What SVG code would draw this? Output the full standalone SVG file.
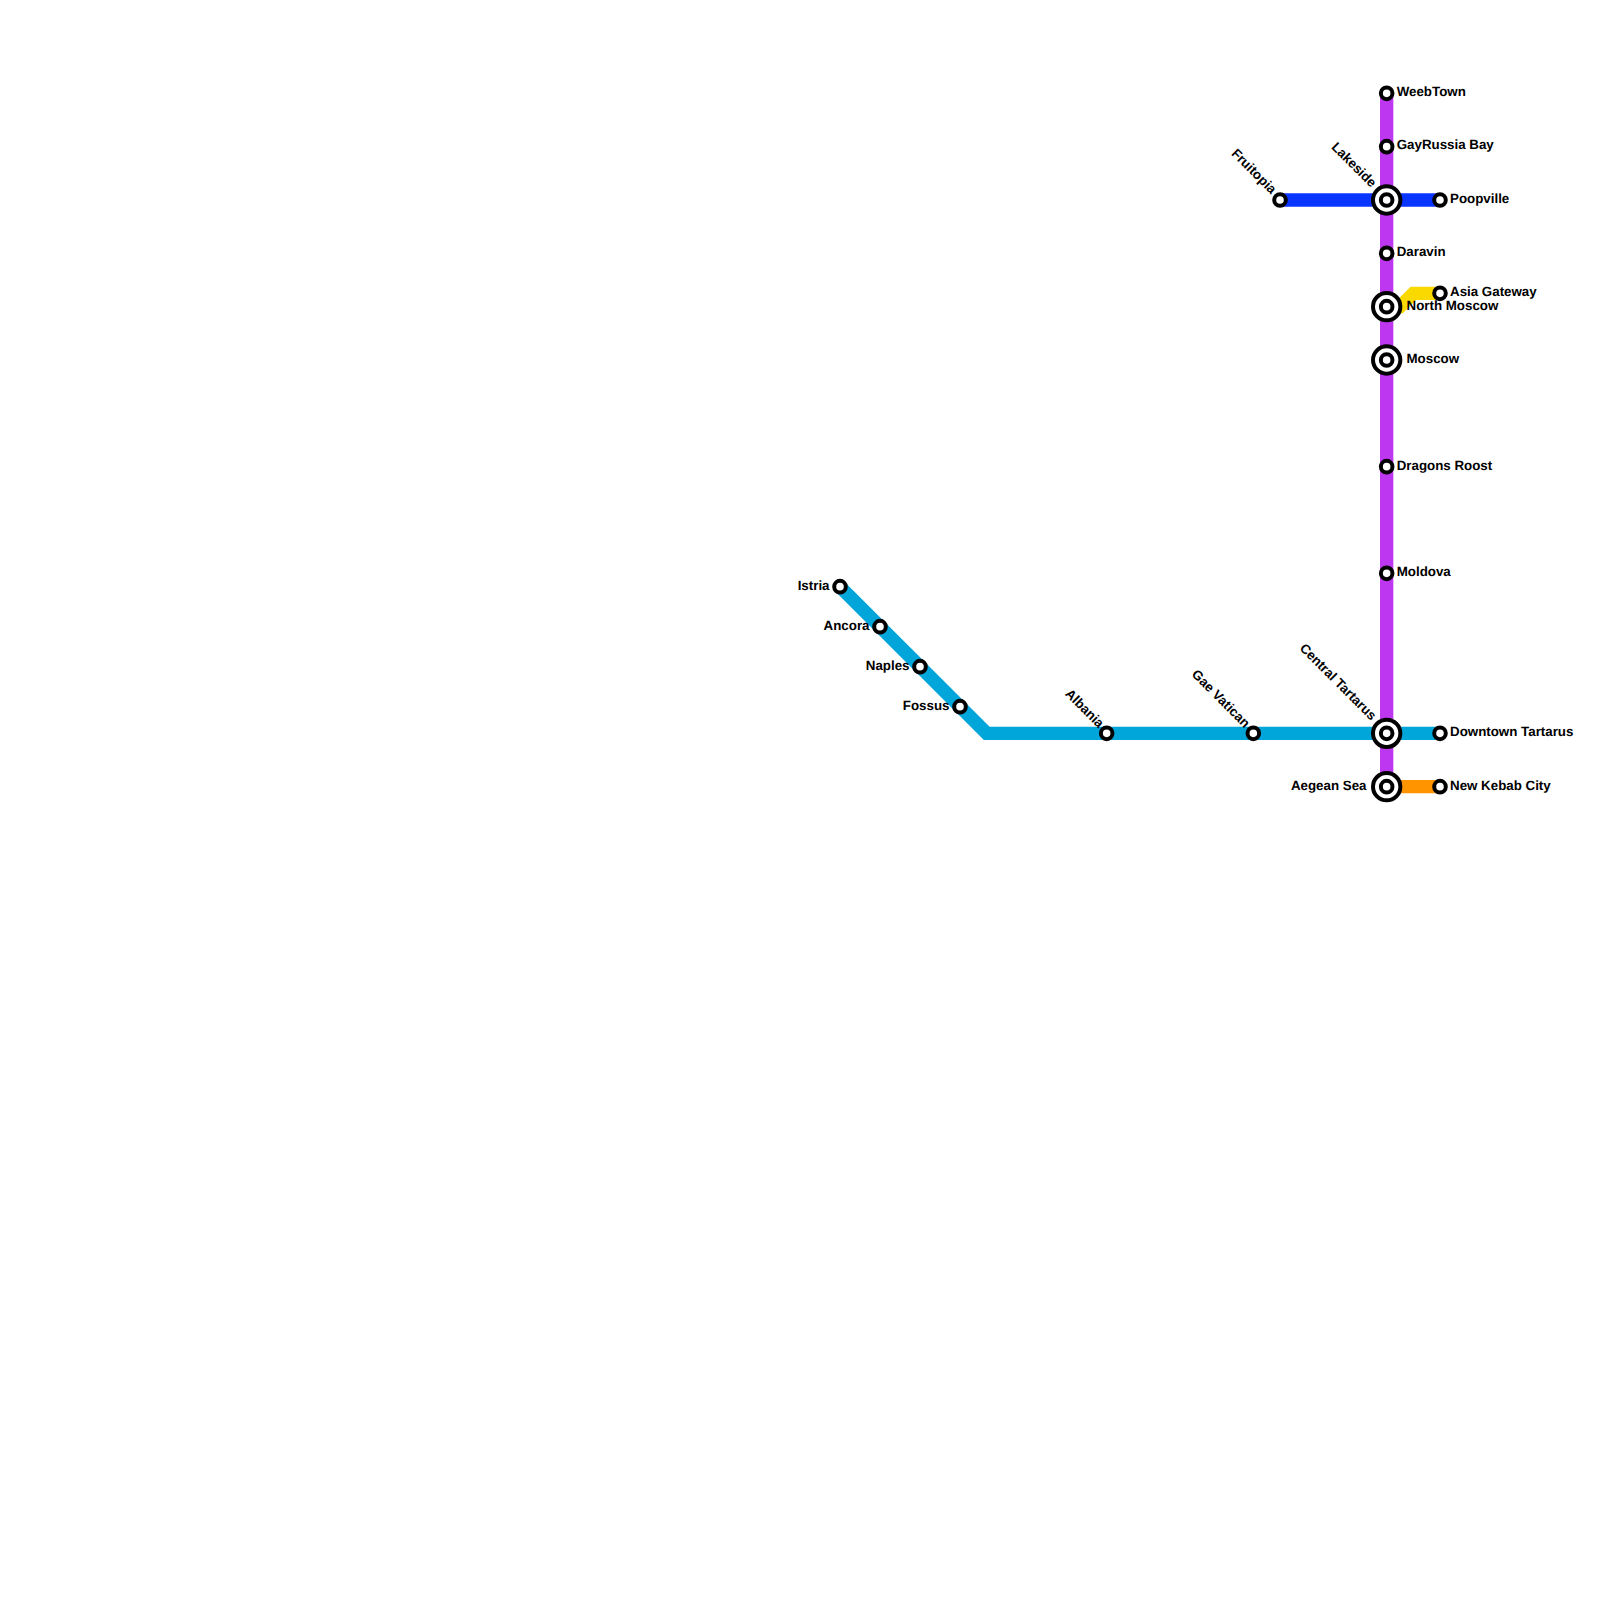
<svg xmlns="http://www.w3.org/2000/svg" width="1600" height="1600" viewBox="0 0 1600 1600">
<style>
.l{fill:none;stroke-width:13.33;stroke-linejoin:miter}
.s{fill:#fff;stroke:#000;stroke-width:4}
.b{fill:#fff;stroke:#000;stroke-width:4}
text{font-family:"Liberation Sans",Arial,sans-serif;font-weight:700;font-size:13.33px;fill:#000;text-rendering:geometricPrecision}
.e{text-anchor:end}
</style>
<rect width="1600" height="1600" fill="#fff"/>
<g id="connectors">
<path class="l" stroke="#f9d900" d="M1386.67 306.67H1400L1413.33 293.33H1440"/>
<path class="l" stroke="#bd36f0" d="M1386.67 93.33V786.67"/>
<path class="l" stroke="#0a34ff" d="M1280 200H1440"/>
<path class="l" stroke="#00a5da" d="M840 586.67L986.67 733.33H1440"/>
<path class="l" stroke="#ff9400" d="M1386.67 786.67H1440"/>
</g>
<g id="weebtown"><circle class="s" cx="1386.67" cy="93.33" r="5.8"/><text x="1396.7" y="96">WeebTown</text></g>
<g id="gayrussia-bay"><circle class="s" cx="1386.67" cy="146.67" r="5.8"/><text x="1396.7" y="149.3">GayRussia Bay</text></g>
<g id="lakeside"><circle class="b" cx="1386.67" cy="200" r="13.67"/><circle class="s" cx="1386.67" cy="200" r="5.8"/><text class="e" transform="translate(1371 188) rotate(45)">Lakeside</text></g>
<g id="fruitopia"><circle class="s" cx="1280" cy="200" r="5.8"/><text class="e" transform="translate(1271 194.5) rotate(45)">Fruitopia</text></g>
<g id="poopville"><circle class="s" cx="1440" cy="200" r="5.8"/><text x="1450" y="203">Poopville</text></g>
<g id="daravin"><circle class="s" cx="1386.67" cy="253.33" r="5.8"/><text x="1396.7" y="256.2">Daravin</text></g>
<g id="north-moscow"><circle class="b" cx="1386.67" cy="306.67" r="13.67"/><circle class="s" cx="1386.67" cy="306.67" r="5.8"/><text x="1406.5" y="309.5">North Moscow</text></g>
<g id="asia-gateway"><circle class="s" cx="1440" cy="293.33" r="5.8"/><text x="1450" y="296.2">Asia Gateway</text></g>
<g id="moscow"><circle class="b" cx="1386.67" cy="360" r="13.67"/><circle class="s" cx="1386.67" cy="360" r="5.8"/><text x="1406.5" y="362.8">Moscow</text></g>
<g id="dragons-roost"><circle class="s" cx="1386.67" cy="466.67" r="5.8"/><text x="1396.7" y="469.5">Dragons Roost</text></g>
<g id="moldova"><circle class="s" cx="1386.67" cy="573.33" r="5.8"/><text x="1396.7" y="576.2">Moldova</text></g>
<g id="central-tartarus"><circle class="b" cx="1386.67" cy="733.33" r="13.67"/><circle class="s" cx="1386.67" cy="733.33" r="5.8"/><text class="e" transform="translate(1371 721) rotate(45)">Central Tartarus</text></g>
<g id="downtown-tartarus"><circle class="s" cx="1440" cy="733.33" r="5.8"/><text x="1450" y="736.2">Downtown Tartarus</text></g>
<g id="aegean-sea"><circle class="b" cx="1386.67" cy="786.67" r="13.67"/><circle class="s" cx="1386.67" cy="786.67" r="5.8"/><text class="e" x="1366.5" y="789.5">Aegean Sea</text></g>
<g id="new-kebab-city"><circle class="s" cx="1440" cy="786.67" r="5.8"/><text x="1450" y="789.5">New Kebab City</text></g>
<g id="gae-vatican"><circle class="s" cx="1253.33" cy="733.33" r="5.8"/><text class="e" transform="translate(1244.5 728.5) rotate(45)">Gae Vatican</text></g>
<g id="albania"><circle class="s" cx="1106.67" cy="733.33" r="5.8"/><text class="e" transform="translate(1098.5 728.5) rotate(45)">Albania</text></g>
<g id="istria"><circle class="s" cx="840" cy="586.67" r="5.8"/><text class="e" x="829.5" y="589.5">Istria</text></g>
<g id="ancora"><circle class="s" cx="880" cy="626.67" r="5.8"/><text class="e" x="869.5" y="629.5">Ancora</text></g>
<g id="naples"><circle class="s" cx="920" cy="666.67" r="5.8"/><text class="e" x="909.5" y="669.5">Naples</text></g>
<g id="fossus"><circle class="s" cx="960" cy="706.67" r="5.8"/><text class="e" x="949.5" y="709.5">Fossus</text></g>
</svg>
